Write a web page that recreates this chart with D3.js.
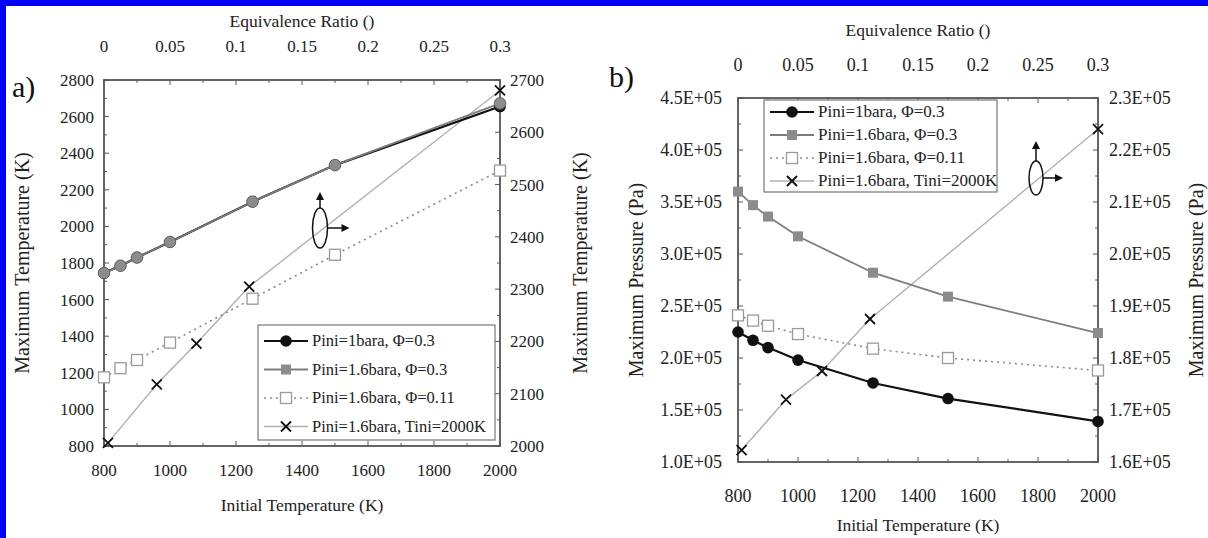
<!DOCTYPE html>
<html><head><meta charset="utf-8">
<script src="https://cdn.jsdelivr.net/npm/d3@7"></script>
<style>
html,body{margin:0;padding:0;background:#fff;}
svg, svg text{font-family:"Liberation Serif","DejaVu Serif","Times New Roman",serif;}
</style></head>
<body><svg id="c" width="1208" height="538" font-family="Liberation Serif, DejaVu Serif, serif"></svg>
<script>
// ---------- data ----------
const tempInit = [800, 850, 900, 1000, 1250, 1500, 2000];
const phiTini = [0.003, 0.04, 0.07, 0.11, 0.3];

// panel a: maximum temperature (K)
const aTmax1bar03 = [1745, 1785, 1830, 1915, 2135, 2335, 2655];
const aTmax16bar03 = [1745, 1785, 1830, 1915, 2135, 2335, 2672];
const aTmax16bar011 = [1175, 1225, 1270, 1365, 1605, 1845, 2305];
const aTmaxTini2000 = [2006, 2118, 2196, 2305, 2680];

// panel b: maximum pressure (Pa)
const bPmax1bar03 = [2.25e5, 2.17e5, 2.10e5, 1.98e5, 1.76e5, 1.61e5, 1.39e5];
const bPmax16bar03 = [3.60e5, 3.47e5, 3.36e5, 3.17e5, 2.82e5, 2.59e5, 2.24e5];
const bPmax16bar011 = [2.41e5, 2.36e5, 2.31e5, 2.23e5, 2.09e5, 2.00e5, 1.88e5];
const bPmaxTini2000 = [1.623e5, 1.72e5, 1.775e5, 1.875e5, 2.24e5];

const seriesNames = ["Pini=1bara, \u03A6=0.3", "Pini=1.6bara, \u03A6=0.3", "Pini=1.6bara, \u03A6=0.11", "Pini=1.6bara, Tini=2000K"];

const xTicks = [800, 1000, 1200, 1400, 1600, 1800, 2000];
const phiTicks = [0, 0.05, 0.1, 0.15, 0.2, 0.25, 0.3];
const aLeftTicks = [800, 1000, 1200, 1400, 1600, 1800, 2000, 2200, 2400, 2600, 2800];
const aRightTicks = [2000, 2100, 2200, 2300, 2400, 2500, 2600, 2700];
const bLeftTicks = [1.0e5, 1.5e5, 2.0e5, 2.5e5, 3.0e5, 3.5e5, 4.0e5, 4.5e5];
const bRightTicks = [1.6e5, 1.7e5, 1.8e5, 1.9e5, 2.0e5, 2.1e5, 2.2e5, 2.3e5];

const xTitle = "Initial Temperature (K)";
const topTitle = "Equivalence Ratio ()";

// ---------- drawing ----------
const FONT = "Liberation Serif, DejaVu Serif, serif";
const svg = d3.select("#c");
svg.append("rect").attr("x",0).attr("y",0).attr("width",1208).attr("height",538).attr("fill","#fff");

const expFmt = v => { const e = Math.floor(Math.log10(v)); const m = v/Math.pow(10,e); return m.toFixed(1)+"E+"+String(e).padStart(2,"0"); };

function panel(o) {
  const g = svg.append("g").attr("font-family",FONT);
  const x = d3.scaleLinear().domain([800,2000]).range([o.L, o.R]);
  const xp = d3.scaleLinear().domain([0,0.3]).range([o.L, o.R]);
  const yl = d3.scaleLinear().domain(o.leftDom).range([o.B, o.T]);
  const yr = d3.scaleLinear().domain(o.rightDom).range([o.B, o.T]);
  const axisCol = "#555";

  // minor/major ticks (inward)
  const tickG = g.append("g").attr("stroke", axisCol).attr("stroke-width",1);
  d3.range(800, 2001, 100).forEach(v => tickG.append("line").attr("x1",x(v)).attr("x2",x(v)).attr("y1",o.B).attr("y2",o.B-(v%200===0?5:3)));
  d3.range(0, 0.3001, 0.025).forEach((v,i) => tickG.append("line").attr("x1",xp(v)).attr("x2",xp(v)).attr("y1",o.T).attr("y2",o.T+(i%2===0?5:3)));
  o.leftMinor.forEach((v,i) => tickG.append("line").attr("x1",o.L).attr("x2",o.L+(i%2===0?5:3)).attr("y1",yl(v)).attr("y2",yl(v)));
  o.rightMinor.forEach((v,i) => tickG.append("line").attr("x1",o.R).attr("x2",o.R-(i%2===0?5:3)).attr("y1",yr(v)).attr("y2",yr(v)));

  // frame
  g.append("rect").attr("x",o.L).attr("y",o.T).attr("width",o.R-o.L).attr("height",o.B-o.T)
    .attr("fill","none").attr("stroke",axisCol).attr("stroke-width",1.8);

  // tick labels
  const lab = g.append("g").attr("font-size",o.fs).attr("fill","#222");
  xTicks.forEach(v => lab.append("text").attr("x",x(v)).attr("y",o.B+o.xLabDy).attr("text-anchor","middle").text(v));
  phiTicks.forEach(v => lab.append("text").attr("x",xp(v)).attr("y",o.T+o.topLabDy).attr("text-anchor","middle").text(String(v)));
  o.leftTicks.forEach(v => lab.append("text").attr("x",o.L-o.yLabGapL).attr("y",yl(v)+6).attr("text-anchor","end").text(o.fmt(v)));
  o.rightTicks.forEach(v => lab.append("text").attr("x",o.R+o.yLabGapR).attr("y",yr(v)+6).attr("text-anchor","start").text(o.fmt(v)));

  // titles
  const tt = g.append("g").attr("fill","#222");
  tt.append("text").attr("x",(o.L+o.R)/2).attr("y",o.xTitleY).attr("font-size",o.tfs).attr("text-anchor","middle").text(xTitle);
  tt.append("text").attr("x",(o.L+o.R)/2).attr("y",o.topTitleY).attr("font-size",o.tfs).attr("text-anchor","middle").text(topTitle);
  tt.append("text").attr("transform",`translate(${o.yTitleLX},${(o.T+o.B)/2}) rotate(-90)`).attr("font-size",o.yfs).attr("text-anchor","middle").text(o.yTitle);
  tt.append("text").attr("transform",`translate(${o.yTitleRX},${(o.T+o.B)/2}) rotate(-90)`).attr("font-size",o.yfs).attr("text-anchor","middle").text(o.yTitle);
  g.append("text").attr("x",o.tagX).attr("y",o.tagY).attr("font-size",30).attr("fill","#111").text(o.tag);

  // series
  const line = (xs, ys, sx, sy) => d3.line().x((d,i)=>sx(xs[i])).y((d,i)=>sy(ys[i]))(ys);
  const clip = "clip-"+o.tag.replace(")","");
  g.append("clipPath").attr("id",clip).append("rect").attr("x",o.L-8).attr("y",o.T-8).attr("width",o.R-o.L+16).attr("height",o.B-o.T+16);
  const s = g.append("g").attr("clip-path",`url(#${clip})`);

  s.append("path").attr("d",line(phiTini,o.s4,xp,yr)).attr("fill","none").attr("stroke","#b0b0b0").attr("stroke-width",1.4);
  s.append("path").attr("d",line(tempInit,o.s3,x,yl)).attr("fill","none").attr("stroke","#8a8a8a").attr("stroke-width",1.6).attr("stroke-dasharray","2,4");
  s.append("path").attr("d",line(tempInit,o.s1,x,yl)).attr("fill","none").attr("stroke","#111").attr("stroke-width",2.2);
  s.append("path").attr("d",line(tempInit,o.s2,x,yl)).attr("fill","none").attr("stroke","#7d7d7d").attr("stroke-width",1.8);

  const sym = (sel, type, cx, cy) => {
    if (type===0) sel.append("circle").attr("cx",cx).attr("cy",cy).attr("r",5.8).attr("fill","#111");
    else if (type===1) sel.append("rect").attr("x",cx-5).attr("y",cy-5).attr("width",10).attr("height",10).attr("fill","#8c8c8c");
    else if (type===2) sel.append("rect").attr("x",cx-5.5).attr("y",cy-5.5).attr("width",11).attr("height",11).attr("fill","#fff").attr("stroke","#9a9a9a").attr("stroke-width",1.3);
    else { sel.append("path").attr("d",`M${cx-5},${cy-5}L${cx+5},${cy+5}M${cx-5},${cy+5}L${cx+5},${cy-5}`).attr("stroke","#111").attr("stroke-width",1.8); }
  };
  tempInit.forEach((t,i)=>sym(s,2,x(t),yl(o.s3[i])));
  tempInit.forEach((t,i)=>sym(s,0,x(t),yl(o.s1[i])));
  if (o.tag==="a)") {
    tempInit.forEach((t,i)=>{ s.append("circle").attr("cx",x(t)).attr("cy",yl(o.s2[i])).attr("r",5.8).attr("fill","#8c8c8c").attr("stroke","#666").attr("stroke-width",1); });
  } else {
    tempInit.forEach((t,i)=>sym(s,1,x(t),yl(o.s2[i])));
  }
  phiTini.forEach((p,i)=>sym(s,3,xp(p),yr(o.s4[i])));

  // ellipse annotation
  const e = o.ell;
  const ag = g.append("g").attr("stroke","#111").attr("stroke-width",1.5).attr("fill","none");
  ag.append("ellipse").attr("cx",e.cx).attr("cy",e.cy).attr("rx",e.rx).attr("ry",e.ry);
  ag.append("line").attr("x1",e.cx).attr("y1",e.cy-e.ry).attr("x2",e.cx).attr("y2",e.cy-e.ry-e.up+6);
  ag.append("line").attr("x1",e.cx+e.rx).attr("y1",e.cy).attr("x2",e.cx+e.rx+e.right-6).attr("y2",e.cy);
  g.append("path").attr("d",`M${e.cx},${e.cy-e.ry-e.up}l-4,8h8z`).attr("fill","#111");
  g.append("path").attr("d",`M${e.cx+e.rx+e.right},${e.cy}l-8,-4v8z`).attr("fill","#111");

  // legend
  const lg = o.leg;
  const leg = g.append("g");
  leg.append("rect").attr("x",lg.x).attr("y",lg.y).attr("width",lg.w).attr("height",lg.h).attr("fill","#fff").attr("stroke","#777").attr("stroke-width",1.2);
  seriesNames.forEach((n,i)=>{
    const yy = lg.y + lg.first + i*lg.dy;
    const x0 = lg.x+6, x1 = lg.x+6+lg.lw, xm=(x0+x1)/2;
    const st = [["#111",2.2,null],["#7d7d7d",1.8,null],["#8a8a8a",1.6,"2,4"],["#b0b0b0",1.4,null]][i];
    const ln = leg.append("line").attr("x1",x0).attr("x2",x1).attr("y1",yy).attr("y2",yy).attr("stroke",st[0]).attr("stroke-width",st[1]);
    if (st[2]) ln.attr("stroke-dasharray",st[2]);
    sym(leg, i, xm, yy);
    leg.append("text").attr("x",x1+4).attr("y",yy+5).attr("font-size",lg.fs).attr("fill","#222").text(n);
  });
}

// blue frame
svg.append("rect").attr("x",0).attr("y",0).attr("width",1208).attr("height",6).attr("fill","#0000ff");
svg.append("rect").attr("x",0).attr("y",0).attr("width",6).attr("height",538).attr("fill","#0000ff");

panel({
  tag:"a)", tagX:12, tagY:97, L:104, R:500, T:80, B:446,
  leftDom:[800,2800], rightDom:[2000,2700],
  leftTicks:aLeftTicks, rightTicks:aRightTicks,
  leftMinor:d3.range(800,2801,100), rightMinor:d3.range(2000,2701,50),
  fmt:v=>String(v), fs:17, tfs:17.5, yfs:20,
  xLabDy:30, topLabDy:-28, yLabGapL:10, yLabGapR:10,
  xTitleY:511, topTitleY:27, yTitleLX:29, yTitleRX:587,
  yTitle:"Maximum Temperature (K)",
  s1:aTmax1bar03, s2:aTmax16bar03, s3:aTmax16bar011, s4:aTmaxTini2000,
  ell:{cx:320, cy:228, rx:7.5, ry:20, up:16, right:22},
  leg:{x:258, y:325, w:237, h:115, first:16, dy:28.5, lw:44, fs:16.5}
});

panel({
  tag:"b)", tagX:609, tagY:87, L:738, R:1098, T:98, B:462,
  leftDom:[1.0e5,4.5e5], rightDom:[1.6e5,2.3e5],
  leftTicks:bLeftTicks, rightTicks:bRightTicks,
  leftMinor:d3.range(1.0e5,4.5e5+1,0.25e5), rightMinor:d3.range(1.6e5,2.3e5+1,0.05e5),
  fmt:expFmt, fs:18, tfs:17.5, yfs:20,
  xLabDy:40, topLabDy:-27, yLabGapL:16, yLabGapR:11,
  xTitleY:531, topTitleY:36, yTitleLX:643, yTitleRX:1203,
  yTitle:"Maximum Pressure (Pa)",
  s1:bPmax1bar03, s2:bPmax16bar03, s3:bPmax16bar011, s4:bPmaxTini2000,
  ell:{cx:1036, cy:178, rx:7, ry:17, up:20, right:20},
  leg:{x:764, y:100, w:233, h:92, first:12, dy:23, lw:44, fs:17}
});
</script></body></html>
